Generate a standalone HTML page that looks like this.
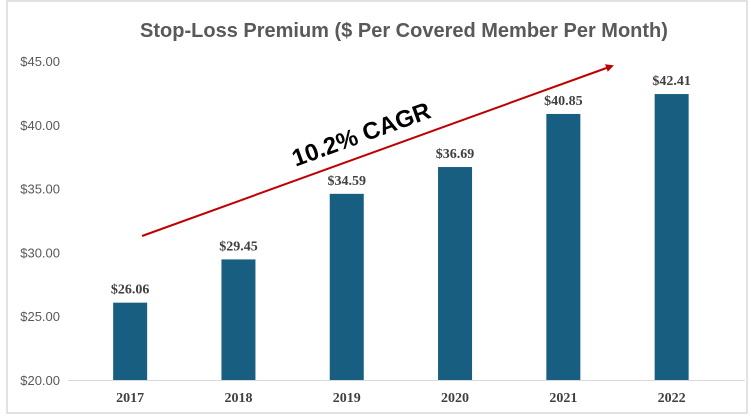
<!DOCTYPE html>
<html><head><meta charset="utf-8"><style>
html,body{margin:0;padding:0;background:#fff}
svg{display:block}
</style></head><body>
<svg id="chart" width="751" height="416" xmlns="http://www.w3.org/2000/svg">
<rect x="7" y="1" width="740" height="412" fill="#fff" stroke="#d9d9d9" stroke-width="1.5"/>
<text x="404" y="37" text-anchor="middle" font-family="Liberation Sans, sans-serif" font-weight="bold" font-size="20" fill="#595959">Stop-Loss Premium ($ Per Covered Member Per Month)</text>
<g id="yaxis"></g>
<g id="bars"></g>
<line x1="68" y1="380.5" x2="745" y2="380.5" stroke="#d9d9d9" stroke-width="1"/>
<defs><marker id="ah" markerWidth="8" markerHeight="8" refX="6" refY="4" orient="auto" markerUnits="userSpaceOnUse"><path d="M0,0 L8,4 L0,8 z" fill="#c00000"/></marker></defs>
<line x1="142" y1="236" x2="612" y2="66" stroke="#c00000" stroke-width="2" marker-end="url(#ah)"/>
<text transform="translate(364,142) rotate(-19.9)" text-anchor="middle" font-family="Liberation Sans, sans-serif" font-weight="bold" font-size="24" fill="#000">10.2% CAGR</text>
</svg>
<script>
const categories = ["2017","2018","2019","2020","2021","2022"];
const values = [26.06, 29.45, 34.59, 36.69, 40.85, 42.41];
const valueLabels = ["$26.06","$29.45","$34.59","$36.69","$40.85","$42.41"];
const yTicks = [20,25,30,35,40,45];
const yTickLabels = ["$20.00","$25.00","$30.00","$35.00","$40.00","$45.00"];

const ns="http://www.w3.org/2000/svg";
const yMin=20,yMax=45,yBot=380,yTop=61;
function y(v){return yBot-(v-yMin)/(yMax-yMin)*(yBot-yTop);}
const x0=76,band=108.3;
function x(i){return x0+band*(i+0.5);}
const barW=34;
const ya=document.getElementById('yaxis');
yTicks.forEach((t,i)=>{
  const tx=document.createElementNS(ns,'text');
  tx.setAttribute('x',60);tx.setAttribute('y',y(t)+5);
  tx.setAttribute('text-anchor','end');
  tx.setAttribute('font-family','Liberation Sans, sans-serif');
  tx.setAttribute('font-size','13');tx.setAttribute('fill','#595959');
  tx.textContent=yTickLabels[i];
  
  
  ya.appendChild(tx);
});
const bg=document.getElementById('bars');
values.forEach((v,i)=>{
  const r=document.createElementNS(ns,'rect');
  r.setAttribute('x',x(i)-barW/2);r.setAttribute('y',y(v));
  r.setAttribute('width',barW);r.setAttribute('height',yBot-y(v));
  r.setAttribute('fill','#175e80');
  
  
  bg.appendChild(r);
  const vl=document.createElementNS(ns,'text');
  vl.setAttribute('x',x(i));vl.setAttribute('y',y(v)-9);
  vl.setAttribute('text-anchor','middle');
  vl.setAttribute('font-family','Liberation Serif, serif');
  vl.setAttribute('font-weight','bold');
  vl.setAttribute('font-size','14');vl.setAttribute('fill','#404040');
  vl.textContent=valueLabels[i];
  
  
  bg.appendChild(vl);
  const cl=document.createElementNS(ns,'text');
  cl.setAttribute('x',x(i));cl.setAttribute('y',402);
  cl.setAttribute('text-anchor','middle');
  cl.setAttribute('font-family','Liberation Serif, serif');
  cl.setAttribute('font-weight','bold');
  cl.setAttribute('font-size','14');cl.setAttribute('fill','#404040');
  cl.textContent=categories[i];
  
  
  bg.appendChild(cl);
});
</script>
</body></html>
